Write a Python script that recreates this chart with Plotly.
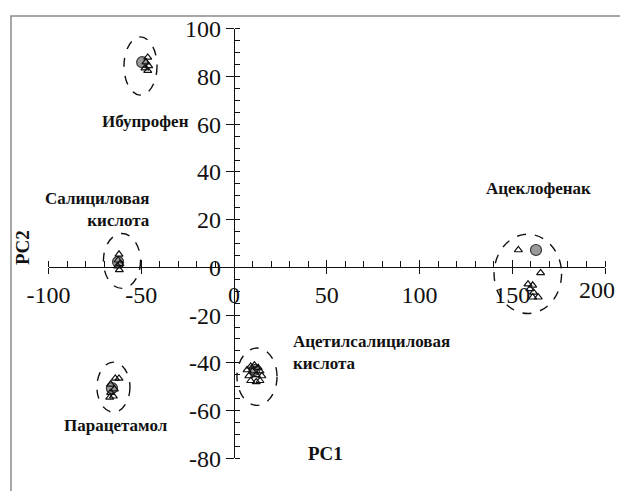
import plotly.graph_objects as go

# ---- data ----
cluster_names = ["Ибупрофен", "Салициловая кислота", "Парацетамол",
                 "Ацетилсалициловая кислота", "Ацеклофенак"]

ibu_pc1 = [-46.5, -47.5, -46.0, -48.0, -46.5]
ibu_pc2 = [88.0, 86.0, 84.5, 83.5, 82.5]
sal_pc1 = [-62.0, -62.5, -61.5, -62.8, -61.8]
sal_pc2 = [5.5, 3.0, 1.5, 0.5, -1.0]
par_pc1 = [-64.0, -62.0, -66.5, -64.5, -66.5, -65.0, -67.0]
par_pc2 = [-46.5, -46.5, -49.0, -51.0, -52.5, -54.0, -54.5]
ace_pc1 = [9.0, 11.0, 13.0, 7.0, 10.0, 14.0, 8.0, 12.0, 15.0, 9.0, 12.0, 14.0]
ace_pc2 = [-41.5, -41.0, -42.0, -43.0, -43.5, -43.5, -45.5, -45.0, -45.5, -47.5, -48.0, -47.5]
acf_pc1 = [153.3, 165.3, 158.5, 161.0, 159.5, 161.5, 161.0, 164.0]
acf_pc2 = [7.3, -2.3, -7.0, -7.5, -9.0, -10.5, -12.5, -12.5]

# reference (grey) points, one per cluster
ref_pc1 = [-49.5, -62.5, -65.8, 11.0, 162.8]
ref_pc2 = [86.0, 2.3, -50.6, -43.0, 7.3]

# dashed ellipses: centre and half-axes per cluster
ell_cx = [-50.4, -60.4, -65.0, 12.4, 158.4]
ell_cy = [84.4, 2.7, -50.2, -45.8, -2.7]
ell_rx = [8.9, 10.0, 8.9, 10.8, 18.2]
ell_ry = [12.2, 11.5, 10.5, 12.0, 16.6]

x_ticks = [-100, -50, 0, 50, 100, 150, 200]
x_ticklabels = ["-100", "-50", "0", "50", "100", "150", "200"]
y_ticks = [-80, -60, -40, -20, 0, 20, 40, 60, 80, 100]

SERIF = "Liberation Serif, Times New Roman, serif"
W, H = 620, 491

fig = go.Figure()

all_pc1 = ibu_pc1 + sal_pc1 + par_pc1 + ace_pc1 + acf_pc1
all_pc2 = ibu_pc2 + sal_pc2 + par_pc2 + ace_pc2 + acf_pc2

fig.add_trace(go.Scatter(
    x=ref_pc1, y=ref_pc2, mode="markers",
    marker=dict(symbol="circle", size=11, color="#9a9a9a",
                line=dict(color="#333333", width=1.2)),
    hoverinfo="skip", showlegend=False))
fig.add_trace(go.Scatter(
    x=all_pc1, y=all_pc2, mode="markers",
    marker=dict(symbol="triangle-up-open", size=7, color="#111111",
                line=dict(color="#111111", width=1.2)),
    hoverinfo="skip", showlegend=False))
# empty trace to activate overlay axes (cross ticks)
fig.add_trace(go.Scatter(x=[], y=[], xaxis="x2", yaxis="y2", showlegend=False))

for cx, cy, rx, ry in zip(ell_cx, ell_cy, ell_rx, ell_ry):
    fig.add_shape(type="circle", xref="x", yref="y",
                  x0=cx - rx, x1=cx + rx, y0=cy - ry, y1=cy + ry,
                  line=dict(color="#111111", width=1.4, dash="dash"))

# outer frame (partially cropped in the picture)
fig.add_shape(type="rect", xref="paper", yref="paper",
              x0=11 / W, x1=1.2, y0=-0.2, y1=1 - 16 / H,
              line=dict(color="#8a8a8a", width=1.5), layer="below")


def lab(text, px, py, xanchor="center", align="center", size=17, angle=0):
    fig.add_annotation(text=text, x=px / W, y=(H - py) / H, xref="paper", yref="paper",
                       showarrow=False, xanchor=xanchor, align=align, textangle=angle,
                       font=dict(family=SERIF, size=size, color="#111111", weight="bold"))


lab("Ибупрофен", 145, 110)
lab("Салициловая<br>кислота", 152, 209, xanchor="right", align="right")
lab("Ацеклофенак", 538, 188)
lab("Ацетилсалициловая<br>кислота", 291, 375, xanchor="left", align="left")
lab("Парацетамол", 116, 437)
lab("PC1", 325, 466, size=19)
lab("PC2", 22, 248, size=19, angle=-90)

xdom = [48.5 / W, 605 / W]
ydom = [(H - 458.3) / H, (H - 28.8) / H]
xpos = (H - 267.3) / H
ypos = 234 / W
tickfont = dict(family=SERIF, size=24, color="#111111")

# main axis shows all labels but the last; the overlay axis shows the last one,
# nudged left so it stays inside the page as in the cropped original
x_text_main = x_ticklabels[:-1] + [""]
x_text_last = [""] * (len(x_ticklabels) - 1) + [x_ticklabels[-1]]

fig.update_layout(
    template="none",
    width=W, height=H,
    margin=dict(l=0, r=0, t=0, b=0, autoexpand=False),
    paper_bgcolor="white", plot_bgcolor="rgba(0,0,0,0)",
    showlegend=False,
    xaxis=dict(domain=xdom, range=[-100, 200], anchor="free", position=xpos, automargin=False,
               showgrid=False, zeroline=False, showline=True, linecolor="#111111", linewidth=1.2,
               tickmode="array", tickvals=x_ticks, ticktext=x_text_main,
               ticks="outside", ticklen=6, tickwidth=1.2, tickcolor="#111111",
               tickfont=tickfont, ticklabeloverflow="allow",
               minor=dict(dtick=10, ticks="inside", ticklen=6, tickwidth=1, tickcolor="#111111", showgrid=False)),
    yaxis=dict(domain=ydom, range=[-80, 100], anchor="free", position=ypos, automargin=False,
               showgrid=False, zeroline=False, showline=True, linecolor="#111111", linewidth=1.2,
               tickmode="array", tickvals=y_ticks, ticktext=[str(v) for v in y_ticks],
               ticks="outside", ticklen=8, tickwidth=1.2, tickcolor="#111111",
               tickfont=tickfont, ticklabeloverflow="allow",
               minor=dict(dtick=5, ticks="inside", ticklen=5, tickwidth=1, tickcolor="#111111", showgrid=False)),
    xaxis2=dict(overlaying="x", range=[-100, 200], domain=xdom, anchor="free", position=xpos,
                automargin=False, showgrid=False, zeroline=False, showline=False,
                showticklabels=True, ticktext=x_text_last, tickfont=tickfont,
                ticklabeloverflow="allow", ticklabelshift=-8, ticklabelstandoff=6,
                tickmode="array", tickvals=x_ticks, ticks="inside", ticklen=7, tickwidth=1.2,
                tickcolor="#111111"),
    yaxis2=dict(overlaying="y", range=[-80, 100], domain=ydom, anchor="free", position=ypos,
                automargin=False, showgrid=False, zeroline=False, showline=False, showticklabels=False,
                tickmode="array", tickvals=y_ticks, ticks="inside", ticklen=3, tickwidth=1.2,
                tickcolor="#111111"),
)

fig.write_html("out.html", config={"displayModeBar": False},
               post_script="document.body.style.margin='0';")
